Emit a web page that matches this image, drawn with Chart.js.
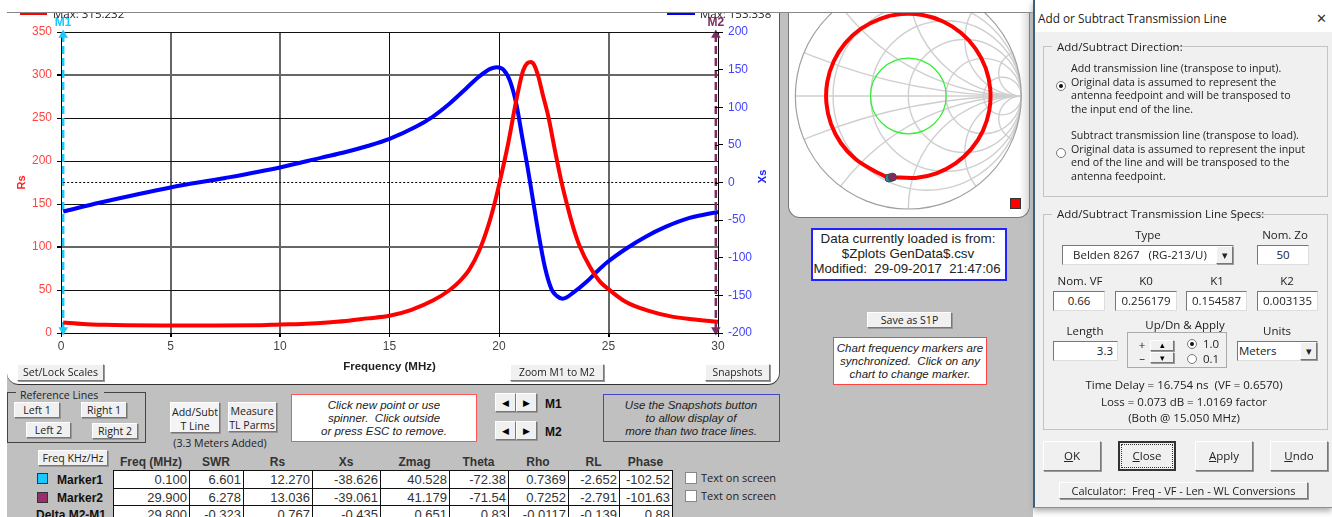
<!DOCTYPE html>
<html>
<head>
<meta charset="utf-8">
<title>Add or Subtract Transmission Line</title>
<script src="https://cdn.jsdelivr.net/npm/chart.js@4/dist/chart.umd.js"></script>
<style>
html, body { margin: 0; padding: 0; background: #fff; overflow: hidden; }
#page { position: relative; width: 1332px; height: 517px; overflow: hidden; background: #fff; font-family: "Open Sans", sans-serif; font-size: 11.5px; color: #222; }
#page div { position: absolute; box-sizing: border-box; }
.t { white-space: pre; height: 16px; line-height: 16px; }
.btn { background: #f0f0f0; border: 1px solid; border-color: #fff #777 #777 #fff; box-shadow: 1px 1px 0 #999; text-align: center; white-space: pre; font-size: 10.6px; }
.input { background: #fff; border: 1px solid; border-color: #777 #ddd #ddd #777; text-align: center; white-space: pre; }
.note { background: #fff; text-align: center; font-family: "Liberation Sans", sans-serif; white-space: pre; }
#mainPanel { left: 7px; top: 13px; width: 773px; height: 372px; background: #fff; border-right: 1px solid #555; border-bottom: 1px solid #333; border-radius: 0 0 12px 12px; overflow: hidden; }
#smithPanel { left: 788px; top: 13px; width: 242px; height: 205px; background: linear-gradient(90deg, #fff 96%, #ddd 100%); border: 1px solid #777; border-top: 0; border-radius: 0 0 12px 12px; overflow: hidden; }
canvas { position: absolute; left: 0; top: 0; }
</style>
</head>
<body>
<div id="page">
  <div style="left:7px;top:13px;width:1026px;height:504px;background:#c0c0c0"></div>
  <div style="left:7px;top:12px;width:1026px;height:1px;background:#888"></div>
  <div id="mainPanel"><canvas id="rsXsChart" width="772" height="371"></canvas></div>
  <div id="smithPanel"><canvas id="smithChart" width="240" height="204"></canvas></div>
  <div style="left:1033px;top:0;width:299px;height:508px;background:#f0f0f0;border-left:2px solid #3a5f7f;border-bottom:1px solid #6a9ac0;box-shadow:0 3px 6px #aaa"></div>
  <div style="left:1035px;top:0;width:297px;height:32px;background:#fff"></div>
</div>
<script>
// Rs trace, left axis
const rsFreq = [0.1, 1, 2, 3, 5, 7, 9, 10, 11, 12, 13, 14, 15, 16, 17, 17.75, 18.2, 18.65, 19.1, 19.5, 19.8, 20, 20.4, 20.8, 21.1, 21.3, 21.45, 21.6, 21.8, 22, 22.25, 22.55, 22.85, 23.1, 23.4, 23.7, 24.15, 24.6, 25, 25.8, 26.8, 27.9, 28.8, 30];
const rsValues = [12.3, 10.5, 9.5, 9, 8.8, 8.8, 9, 10, 10.5, 12, 14, 17, 20, 27, 38, 50, 60, 74, 96, 124, 151, 172, 218, 272, 305, 314, 315.2, 312, 298, 277, 252, 213, 176, 150, 122, 100, 77, 60, 51, 36, 26, 19, 16, 13];

// Xs trace, right axis
const xsFreq = [0.1, 1.8, 5, 7.5, 10, 11.9, 13, 14, 15, 16.2, 16.95, 17.75, 18.5, 19.1, 19.6, 19.9, 20.2, 20.5, 20.8, 21.05, 21.3, 21.55, 21.8, 22.1, 22.4, 22.65, 22.9, 23.45, 24, 24.45, 24.9, 25.8, 26.7, 27.6, 28.7, 30];
const xsValues = [-38.6, -26.6, -6.6, 6, 20, 33, 40.5, 48.5, 58, 74, 87, 105, 125, 141, 151, 153.3, 150, 135, 103, 62, 21, -23, -67, -113, -142, -151, -154.5, -145, -132, -119, -107, -88, -72, -59, -47, -39];

const markerFreqs = [0.1, 29.9];
const markerNames = ["M1", "M2"];
const markerColors = ["#19c8ff", "#7d2c63"];
const refLineFreq = [0.1, 30];
const refLineXs = [0, 0];
const xsSpan = [-196, 196];
const dimGridFreq = [5, 10, 25];
const dimGridRs = [300, 100];

// Smith chart trace, read as reflection coefficient
const gammaRe = [-0.141, 0.063, 0.249, 0.418, 0.558, 0.66, 0.717, 0.725, 0.684, 0.596, 0.468, 0.308, 0.126, -0.063, -0.249, -0.418, -0.558, -0.66, -0.717, -0.725, -0.684, -0.596, -0.468, -0.308, -0.171];
const gammaIm = [-0.718, -0.725, -0.684, -0.596, -0.468, -0.308, -0.126, 0.063, 0.249, 0.418, 0.558, 0.66, 0.717, 0.725, 0.684, 0.596, 0.468, 0.308, 0.126, -0.063, -0.249, -0.418, -0.558, -0.66, -0.726];
const smithR = [0.2, 0.5, 1, 2, 5];
const smithX = [0.2, 0.5, 1, 2, 5];
const swrCircle = 0.335;

// data table
const tableCols = [113, 189, 243, 312, 380, 449, 508, 568, 619, 672];
const tableHeads = ["Freq (MHz)", "SWR", "Rs", "Xs", "Zmag", "Theta", "Rho", "RL", "Phase"];
const marker1Row = ["0.100", "6.601", "12.270", "-38.626", "40.528", "-72.38", "0.7369", "-2.652", "-102.52"];
const marker2Row = ["29.900", "6.278", "13.036", "-39.061", "41.179", "-71.54", "0.7252", "-2.791", "-101.63"];
const deltaRow = ["29.800", "-0.323", "0.767", "-0.435", "0.651", "0.83", "-0.0117", "-0.139", "0.88"];

const page = document.getElementById("page");

function box(cls, x, y, w, h, text, css) {
  const d = document.createElement("div");
  d.className = cls;
  d.style.cssText = `left:${x}px;top:${y}px;width:${w}px;height:${h}px;line-height:${h - 2}px;` + (css || "");
  d.textContent = text || "";
  page.appendChild(d);
  return d;
}
// text placed by its vertical centre; anchor c = x is the centre, r = x is the right end
function txt(s, x, y, anchor, css) {
  const d = document.createElement("div");
  d.className = "t";
  let shift = anchor == "c" ? "transform:translateX(-50%);" : anchor == "r" ? "transform:translateX(-100%);" : "";
  d.style.cssText = `left:${x}px;top:${y - 8}px;` + shift + (css || "");
  d.textContent = s;
  page.appendChild(d);
  return d;
}
function underlined(btn, s) {
  btn.innerHTML = "<u>" + s[0] + "</u>" + s.slice(1);
}
function fieldset(x, y, w, h, legend, lx, lw, color, css) {
  box("", x, y, w, h, "", `border:1px solid ${color};`);
  box("", lx, y - 4, lw, 8, "", "background:" + (css || "#f0f0f0"));
}

const arial = 'font-family:"Liberation Sans",sans-serif;';
const italic = arial + "font-style:italic;font-size:11.5px";
const small = "font-size:10.6px";

// legend stubs cut by the window above
box("", 20, 13, 27, 2, "", "background:#f00;z-index:2");
box("", 667, 13, 28, 2, "", "background:#00f;z-index:2");
const clipA = box("", 50, 13, 80, 8, "", "overflow:hidden;z-index:2");
clipA.innerHTML = '<div class="t" style="left:3px;top:-7px;' + arial + 'font-size:12.5px;color:#333">Max: 315.232</div>';
const clipB = box("", 698, 13, 80, 8, "", "overflow:hidden;z-index:2");
clipB.innerHTML = '<div class="t" style="left:2px;top:-7px;' + arial + 'font-size:12.5px;color:#333">Max: 153.338</div>';

// buttons under the chart
box("btn", 17, 364, 87, 17, "Set/Lock Scales", "z-index:2");
box("btn", 510, 364, 94, 17, "Zoom M1 to M2", "z-index:2;font-size:10.3px");
box("btn", 705, 364, 65, 17, "Snapshots", "z-index:2;font-size:10.3px");

// reference lines
fieldset(7, 392, 139, 51, "", 16, 88, "#444", "#c0c0c0");
txt("Reference Lines", 20, 395, "", small);
box("btn", 14, 402, 46, 16, "Left 1");
box("btn", 81, 402, 46, 16, "Right 1");
box("btn", 26, 422, 45, 16, "Left 2");
box("btn", 92, 423, 46, 16, "Right 2");

box("btn", 170, 402, 50, 31, "", "background:#f4f4f4");
txt("Add/Subt", 195, 412, "c", small);
txt("T Line", 195, 426, "c", small);
box("btn", 228, 402, 49, 30, "");
txt("Measure", 252, 411, "c", small);
txt("TL Parms", 252, 425, "c", small);
txt("(3.3 Meters Added)", 220, 443, "c", small);

box("note", 291, 394, 186, 48, "", "border:1.5px solid #f55");
txt("Click new point or use", 384, 405, "c", italic);
txt("spinner.  Click outside", 384, 418, "c", italic);
txt("or press ESC to remove.", 384, 431, "c", italic);

// marker spinners
[393, 421].forEach(function (y, i) {
  box("btn", 495, y, 21, 19, "◀", "font-size:9px;color:#000");
  box("btn", 516, y, 21, 19, "▶", "font-size:9px;color:#000");
  txt(markerNames[i], 545, y + 11, "", arial + "font-weight:bold;font-size:12px;color:#111");
});

box("", 603, 394, 177, 48, "", "border:1.5px solid #44c");
txt("Use the Snapshots button", 691, 405, "c", italic);
txt("to allow display of", 691, 418, "c", italic);
txt("more than two trace lines.", 691, 431, "c", italic);

// marker table
box("btn", 38, 450, 70, 16, "Freq KHz/Hz");
tableHeads.forEach(function (h, i) {
  let mid = (tableCols[i] + tableCols[i + 1]) / 2;
  txt(h, mid, 462, "c", arial + "font-weight:bold;font-size:12px;color:#333");
});
box("", 113, 470, 560, 47, "", "background:#fff;border:1px solid #111;border-bottom:0");
tableCols.slice(1, -1).forEach(function (x) {
  box("", x, 470, 1, 47, "", "background:#111");
});
[488, 505].forEach(function (y) {
  box("", 113, y, 560, 1, "", "background:#111");
});
[marker1Row, marker2Row, deltaRow].forEach(function (row, r) {
  row.forEach(function (v, i) {
    txt(v, tableCols[i + 1] - 2, 480 + r * 17.5, "r", arial + "font-size:13px;color:#333");
  });
});
box("", 37, 473, 11, 11, "", "background:#19c8ff;border:1px solid #333");
box("", 37, 492, 11, 11, "", "background:#96306b;border:1px solid #333");
txt("Marker1", 57, 480, "", arial + "font-weight:bold;font-size:12px;color:#111");
txt("Marker2", 57, 498, "", arial + "font-weight:bold;font-size:12px;color:#111");
txt("Delta M2-M1", 36, 515, "", arial + "font-weight:bold;font-size:12px;color:#111");
[472, 490].forEach(function (y) {
  box("", 685, y, 12, 12, "", "background:#fff;border:1px solid #888");
  txt("Text on screen", 701, y + 6, "", "font-size:11px");
});

// middle column
box("note", 811, 228, 196, 53, "", "border:2px solid #22f");
txt("Data currently loaded is from:", 908, 239, "c", arial + "font-size:13.4px");
txt("$Zplots GenData$.csv", 908, 254, "c", arial + "font-size:13.4px");
txt("Modified:  29-09-2017  21:47:06", 907, 269, "c", arial + "font-size:13.2px");
box("btn", 867, 312, 85, 16, "Save as S1P");
box("note", 833, 337, 154, 48, "", "border:1.5px solid #f44");
txt("Chart frequency markers are", 910, 348, "c", italic);
txt("synchronized.  Click on any", 910, 361, "c", italic);
txt("chart to change marker.", 910, 374, "c", italic);

// dialog
txt("Add or Subtract Transmission Line", 1038, 18, "", "font-size:11.8px");
txt("✕", 1321, 18, "c", "font-size:13px;color:#333");
fieldset(1043, 46, 285, 151, "", 1052, 118, "#c4c4c4");
txt("Add/Subtract Direction:", 1057, 47);
["Add transmission line (transpose to input).", "Original data is assumed to represent the", "antenna feedpoint and will be transposed to", "the input end of the line."].forEach(function (s, i) {
  txt(s, 1071, 68 + i * 13.5, "", "font-size:10.65px");
});
["Subtract transmission line (transpose to load).", "Original data is assumed to represent the input", "end of the line and will be transposed to the", "antenna feedpoint."].forEach(function (s, i) {
  txt(s, 1071, 135 + i * 13.5, "", "font-size:10.65px");
});
box("", 1056, 81, 10, 10, "", "background:#fff;border:1px solid #777;border-radius:50%");
box("", 1059, 84, 4, 4, "", "background:#111;border-radius:50%");
box("", 1056, 148, 10, 10, "", "background:#fff;border:1px solid #777;border-radius:50%");

fieldset(1043, 214, 285, 216, "", 1052, 178, "#c4c4c4");
txt("Add/Subtract Transmission Line Specs:", 1057, 214);
txt("Type", 1148, 235, "c");
box("input", 1062, 245, 172, 20, "", "");
txt("Belden 8267   (RG-213/U)", 1073, 255);
box("btn", 1216, 246, 17, 18, "▾");
txt("Nom. Zo", 1285, 235, "c");
box("input", 1257, 245, 52, 20, "50");
txt("Nom. VF", 1080, 281, "c");
txt("K0", 1146, 281, "c");
txt("K1", 1217, 281, "c");
txt("K2", 1287, 281, "c");
box("input", 1053, 291, 52, 20, "0.66");
box("input", 1115, 291, 62, 20, "0.256179");
box("input", 1186, 291, 61, 20, "0.154587");
box("input", 1257, 291, 61, 20, "0.003135");
txt("Length", 1085, 331, "c");
box("input", 1053, 341, 65, 20, "3.3", "text-align:right;padding-right:4px");
txt("Up/Dn & Apply", 1185, 325, "c");
box("", 1127, 332, 100, 36, "", "border:1px solid #aaa");
txt("+", 1142, 345, "c");
txt("–", 1142, 358, "c");
box("btn", 1150, 340, 24, 11, "", "");
box("btn", 1150, 352, 24, 11, "", "");
txt("▴", 1162, 345, "c", "font-size:9px;color:#000");
txt("▾", 1162, 358, "c", "font-size:9px;color:#000");
box("", 1187, 339, 10, 10, "", "background:#fff;border:1px solid #777;border-radius:50%");
box("", 1190, 342, 4, 4, "", "background:#111;border-radius:50%");
box("", 1187, 354, 10, 10, "", "background:#fff;border:1px solid #777;border-radius:50%");
txt("1.0", 1203, 344);
txt("0.1", 1203, 359);
txt("Units", 1277, 331, "c");
box("input", 1237, 341, 81, 20, "");
txt("Meters", 1239, 351);
box("btn", 1300, 342, 17, 18, "▾");
txt("Time Delay = 16.754 ns  (VF = 0.6570)", 1184, 385, "c");
txt("Loss = 0.073 dB = 1.0169 factor", 1184, 402, "c");
txt("(Both @ 15.050 MHz)", 1184, 418, "c");
underlined(box("btn", 1043, 441, 58, 30, "", "font-size:11.5px"), "OK");
box("btn", 1118, 441, 58, 30, "", "border:2px solid #333;box-shadow:none");
underlined(box("", 1121, 444, 52, 24, "", "border:1px dotted #333;text-align:center;line-height:22px"), "Close");
underlined(box("btn", 1195, 441, 58, 30, "", "font-size:11.5px"), "Apply");
underlined(box("btn", 1270, 441, 58, 30, "", "font-size:11.5px"), "Undo");
box("btn", 1059, 482, 249, 17, "Calculator:  Freq - VF - Len - WL Conversions", "font-size:11px");
box("", 1010, 198, 11, 11, "", "background:#f00;border:1px solid #333;z-index:2");

// main chart
Chart.defaults.font.family = '"Liberation Sans", sans-serif';
Chart.defaults.animation = false;

function pairs(xs, ys) {
  return xs.map(function (x, i) {
    return { x: x, y: ys[i] };
  });
}

const trace = function (data, color, axis) {
  return { data: data, yAxisID: axis, borderColor: color, borderWidth: 4, pointRadius: 0, showLine: true, cubicInterpolationMode: "monotone" };
};
const markerLine = function (i) {
  return {
    data: pairs([markerFreqs[i], markerFreqs[i]], xsSpan), yAxisID: "y1", showLine: true, clip: false,
    borderColor: markerColors[i], borderWidth: 2.5, borderDash: [8, 4],
    pointStyle: "triangle", pointRadius: 3, pointRotation: [180, 0],
    pointBackgroundColor: markerColors[i], pointBorderColor: markerColors[i],
  };
};

const markerPlugin = {
  id: "markerLabels",
  afterDatasetsDraw(chart) {
    const ctx = chart.ctx, xs = chart.scales.x, y1 = chart.scales.y1;
    ctx.save();
    ctx.font = 'bold 12px "Liberation Sans"';
    ctx.textAlign = "center";
    ctx.textBaseline = "middle";
    markerNames.forEach(function (name, i) {
      ctx.fillStyle = markerColors[i];
      ctx.fillText(name, xs.getPixelForValue(markerFreqs[i]), chart.chartArea.top - 9);
    });
    // right axis ticks also reach a little into the plot
    ctx.strokeStyle = "#000";
    ctx.lineWidth = 1;
    y1.ticks.forEach(function (t) {
      let py = Math.round(y1.getPixelForValue(t.value)) + 0.5;
      ctx.beginPath();
      ctx.moveTo(chart.chartArea.right - 3, py);
      ctx.lineTo(chart.chartArea.right, py);
      ctx.stroke();
    });
    // Xs title reads upwards like Rs, which the right axis title option can't do
    ctx.save();
    ctx.translate(chart.chartArea.right + 45, y1.getPixelForValue(8));
    ctx.rotate(-Math.PI / 2);
    ctx.font = 'bold 11px "Liberation Sans"';
    ctx.fillStyle = "#2222ff";
    ctx.fillText("Xs", 0, 0);
    ctx.restore();
    ctx.restore();
  },
};

new Chart(document.getElementById("rsXsChart"), {
  type: "scatter",
  data: {
    datasets: [
      trace(pairs(rsFreq, rsValues), "#ff0000", "y"),
      trace(pairs(xsFreq, xsValues), "#0000ff", "y1"),
      { data: pairs(refLineFreq, refLineXs), yAxisID: "y1", showLine: true, borderColor: "#000", borderWidth: 1, borderDash: [2, 2], pointRadius: 0 },
      markerLine(0),
      markerLine(1),
    ],
  },
  options: {
    responsive: false,
    layout: { autoPadding: false, padding: { top: 19 } },
    plugins: { legend: { display: false }, tooltip: { enabled: false } },
    scales: {
      x: {
        type: "linear", min: 0, max: 30,
        afterFit(s) { s.height = 51; },
        ticks: { stepSize: 5, color: "#444", font: { size: 12 }, padding: 2, maxRotation: 0 },
        grid: {
          tickLength: 4, tickColor: "#000",
          color: function (c) { return dimGridFreq.includes(c.tick.value) ? "#666" : "#111"; },
          lineWidth: function (c) { return dimGridFreq.includes(c.tick.value) ? 2 : 1; },
        },
        border: { color: "#000" },
        title: { display: true, text: "Frequency (MHz)", color: "#222", font: { size: 11.5, weight: "bold" }, padding: { top: 0, bottom: 10 } },
      },
      y: {
        position: "left", min: 0, max: 350,
        afterFit(s) { s.width = 54; },
        ticks: { stepSize: 50, color: "#ff4444", font: { size: 12 }, padding: 5 },
        grid: {
          tickLength: 4, tickColor: "#000",
          color: function (c) { return dimGridRs.includes(c.tick.value) ? "#666" : "#111"; },
          lineWidth: function (c) { return dimGridRs.includes(c.tick.value) ? 2 : 1; },
        },
        border: { color: "#000" },
        title: { display: true, text: "Rs", color: "#ff2222", font: { size: 11, weight: "bold" }, padding: { top: 8, bottom: 0 } },
      },
      y1: {
        position: "right", min: -200, max: 200,
        afterFit(s) { s.width = 61; },
        ticks: { stepSize: 50, color: "#4444ff", font: { size: 12 }, padding: 5 },
        grid: { drawOnChartArea: false, tickLength: 5, tickColor: "#000" },
        border: { color: "#000" },
      },
    },
  },
  plugins: [markerPlugin],
});

// smith chart
const smithPlugin = {
  id: "smithGrid",
  beforeDatasetsDraw(chart) {
    const ctx = chart.ctx;
    const cx = chart.scales.x.getPixelForValue(0), cy = chart.scales.y.getPixelForValue(0);
    const u = chart.scales.x.getPixelForValue(1) - cx;
    function circle(gx, gy, r, color, width) {
      ctx.beginPath();
      ctx.arc(cx + gx * u, cy - gy * u, r * u, 0, Math.PI * 2);
      ctx.strokeStyle = color;
      ctx.lineWidth = width;
      ctx.stroke();
    }
    ctx.save();
    ctx.beginPath();
    ctx.arc(cx, cy, u, 0, Math.PI * 2);
    ctx.clip();
    smithR.forEach(function (r) {
      circle(r / (1 + r), 0, 1 / (1 + r), "#cfcfcf", 1.4);
    });
    smithX.forEach(function (v) {
      circle(1, 1 / v, 1 / v, "#cfcfcf", 1.4);
      circle(1, -1 / v, 1 / v, "#cfcfcf", 1.4);
    });
    ctx.beginPath();
    ctx.moveTo(cx - u, cy);
    ctx.lineTo(cx + u, cy);
    ctx.strokeStyle = "#cfcfcf";
    ctx.lineWidth = 1.4;
    ctx.stroke();
    ctx.restore();
    circle(0, 0, 1, "#a0a0a0", 1.2);
    circle(0, 0, swrCircle, "#33ee33", 1.2);
  },
};

new Chart(document.getElementById("smithChart"), {
  type: "scatter",
  data: {
    datasets: [
      { data: [{ x: -0.141, y: -0.718 }], pointRadius: 4, pointBackgroundColor: "#7d2c63", pointBorderColor: "#444", pointBorderWidth: 1 },
      { data: [{ x: -0.171, y: -0.726 }], pointRadius: 4, pointBackgroundColor: "#1f8aa8", pointBorderColor: "#444", pointBorderWidth: 1 },
      { data: pairs(gammaRe, gammaIm), showLine: true, borderColor: "#ff0000", borderWidth: 4, pointRadius: 0, tension: 0.33 },
    ],
  },
  options: {
    responsive: false,
    layout: { autoPadding: false },
    plugins: { legend: { display: false }, tooltip: { enabled: false } },
    scales: {
      x: { type: "linear", display: false, min: -1.056, max: 1.068 },
      y: { type: "linear", display: false, min: -1.071, max: 0.735 },
    },
  },
  plugins: [smithPlugin],
});
</script>
</body>
</html>
